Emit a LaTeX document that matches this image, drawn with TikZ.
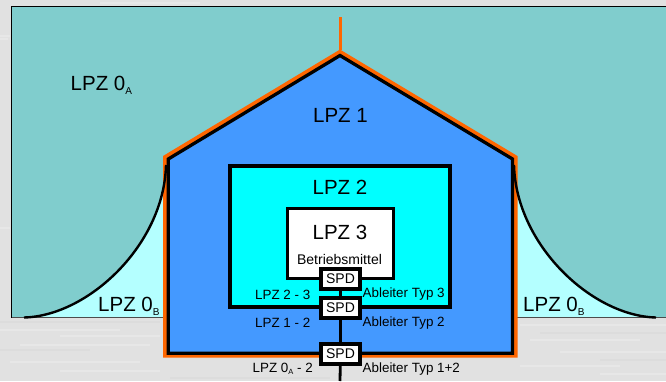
\documentclass[tikz,border=0pt]{standalone}
\usepackage{fontspec}
\setmainfont{Liberation Sans}
\newcommand{\bigtxt}{\fontsize{20.5}{24}\selectfont}
\newcommand{\smalltxt}{\fontsize{13.4}{16}\selectfont}
\newcommand{\lowtxt}[1]{\raisebox{-4pt}{\fontsize{10}{12}\selectfont #1}}
\newcommand{\lowsmall}[1]{\raisebox{-2.5pt}{\fontsize{7.5}{9}\selectfont #1}}
\definecolor{bggray}{HTML}{E1E1E1}
\definecolor{bgstreak}{HTML}{E7E7E7}
\definecolor{bgdark}{HTML}{DCDCDC}
\definecolor{teal0}{HTML}{80CDCD}
\definecolor{cyan0}{HTML}{B4FFFF}
\definecolor{housefill}{HTML}{4499FF}
\definecolor{zonecyan}{HTML}{00FFFF}
\definecolor{shield}{HTML}{FF6600}
\tikzset{
  bigl/.style={inner sep=0pt,font=\bigtxt,text=black},
  smalll/.style={inner sep=0pt,font=\smalltxt,text=black,anchor=base west},
  spdbox/.style={draw=black,line width=3.2pt,fill=white,minimum width=39pt,minimum height=20pt,inner sep=0pt,font=\fontsize{14}{16}\selectfont},
  zoneedge/.style={draw=black,line width=3.3pt,miter limit=10},
  wire/.style={draw=black,line width=2.8pt},
  streak/.style={line width=1.5pt}
}
\begin{document}
\begin{tikzpicture}[x=1pt,y=-1pt]
\useasboundingbox (0,0) rectangle (666,381);
\fill[bggray] (0,0) rectangle (666,381);
\foreach \yy/\xa/\xb in {3/100/200,36/0/10,39/0/8,228/0/10,330/0/120,336/60/160,345/20/150,362/10/140,371/60/160,325/520/666,340/530/640,352/560/666,366/520/620,374/600/666}{
  \draw[streak,bgstreak] (\xa,\yy) -- (\xb,\yy);
}
\foreach \yy/\xa/\xb in {322/0/160,350/0/90,333/540/666,360/600/666,378/170/330}{
  \draw[streak,bgdark] (\xa,\yy) -- (\xb,\yy);
}
% outer zone
\fill[cyan0] (11.5,6.5) rectangle (666,317.5);
\fill[teal0] (11.5,6.5) -- (666,6.5) -- (666,317.5) -- (656,317.5)
  .. controls (592,316) and (516,245) .. (514,165) -- (340,60) -- (166,165)
  .. controls (164,245) and (88,316) .. (24,317.5) -- (11.5,317.5) -- cycle;
\draw[black,line width=1.2pt] (11.5,317.5) -- (11.5,6.5) -- (666,6.5);
\draw[black!70,line width=1.2pt] (11.5,317.5) -- (170,317.5) (510,317.5) -- (666,317.5);
% spire and shield
\coordinate (spiretop) at (340,17);
\coordinate (apex) at (340,50);
\draw[shield,line width=3pt] (spiretop) -- (apex);
\fill[shield] (340,49.5) -- (517.5,156) -- (517.5,357.5) -- (163,357.5) -- (163,156) -- cycle;
\draw[black,line width=2.4pt] (24,317.5) .. controls (88,316) and (164,245) .. (166,165);
\draw[black,line width=2.4pt] (656,317.5) .. controls (592,316) and (516,245) .. (514,165);
% building
\fill[housefill] (340,55.5) -- (512.5,159) -- (512.5,353.3) -- (168.3,353.3) -- (168.3,159) -- cycle;
\draw[zoneedge] (340,55.5) -- (512.5,159) -- (512.5,353.3) -- (168.3,353.3) -- (168.3,159) -- cycle;
% inner zones
\node[zoneedge,fill=zonecyan,minimum width=220pt,minimum height=141pt,inner sep=0pt,anchor=north west] (lpztwo) at (228.2,164.2) {};
\node[zoneedge,fill=white,minimum width=106pt,minimum height=70pt,inner sep=0pt,anchor=north west] (lpzthree) at (285.5,207) {};
% SPD
\node[spdbox] (spdc) at (340.5,279) {};
\node[spdbox] (spdb) at (340.5,308) {};
\node[spdbox] (spda) at (340.5,354) {};
\coordinate (wireend) at (340,381);
\draw[wire] (spdc) -- (spdb);
\draw[wire] (spdb) -- (spda);
\draw[wire] (spda) -- (wireend);
\node[spdbox] at (spdc) {SPD};
\node[spdbox] at (spdb) {SPD};
\node[spdbox] at (spda) {SPD};
% labels
\node[bigl,anchor=base west] (t0a) at (70.5,90) {LPZ 0\lowtxt{A}};
\node[bigl,anchor=base] (t1) at (340.5,122) {LPZ 1};
\node[bigl,anchor=base] (t2) at (340,194) {LPZ 2};
\node[bigl,anchor=base] (t3) at (340,239) {LPZ 3};
\node[bigl,anchor=base west] (t0bl) at (98,311) {LPZ 0\lowtxt{B}};
\node[bigl,anchor=base west] (t0br) at (523,311) {LPZ 0\lowtxt{B}};
\node[smalll,anchor=base,font=\fontsize{14}{16}\selectfont] (tb) at (339.5,264) {Betriebsmittel};
\node[smalll] (l23) at (255,299) {LPZ 2 - 3};
\node[smalll] (l12) at (255,327) {LPZ 1 - 2};
\node[smalll] (l0a) at (252.5,372) {LPZ 0\lowsmall{A} - 2};
\node[smalll] (a3) at (362.5,297) {Ableiter Typ 3};
\node[smalll] (a2) at (362.5,326) {Ableiter Typ 2};
\node[smalll] (a12) at (362.5,372) {Ableiter Typ 1+2};
\end{tikzpicture}
\end{document}
